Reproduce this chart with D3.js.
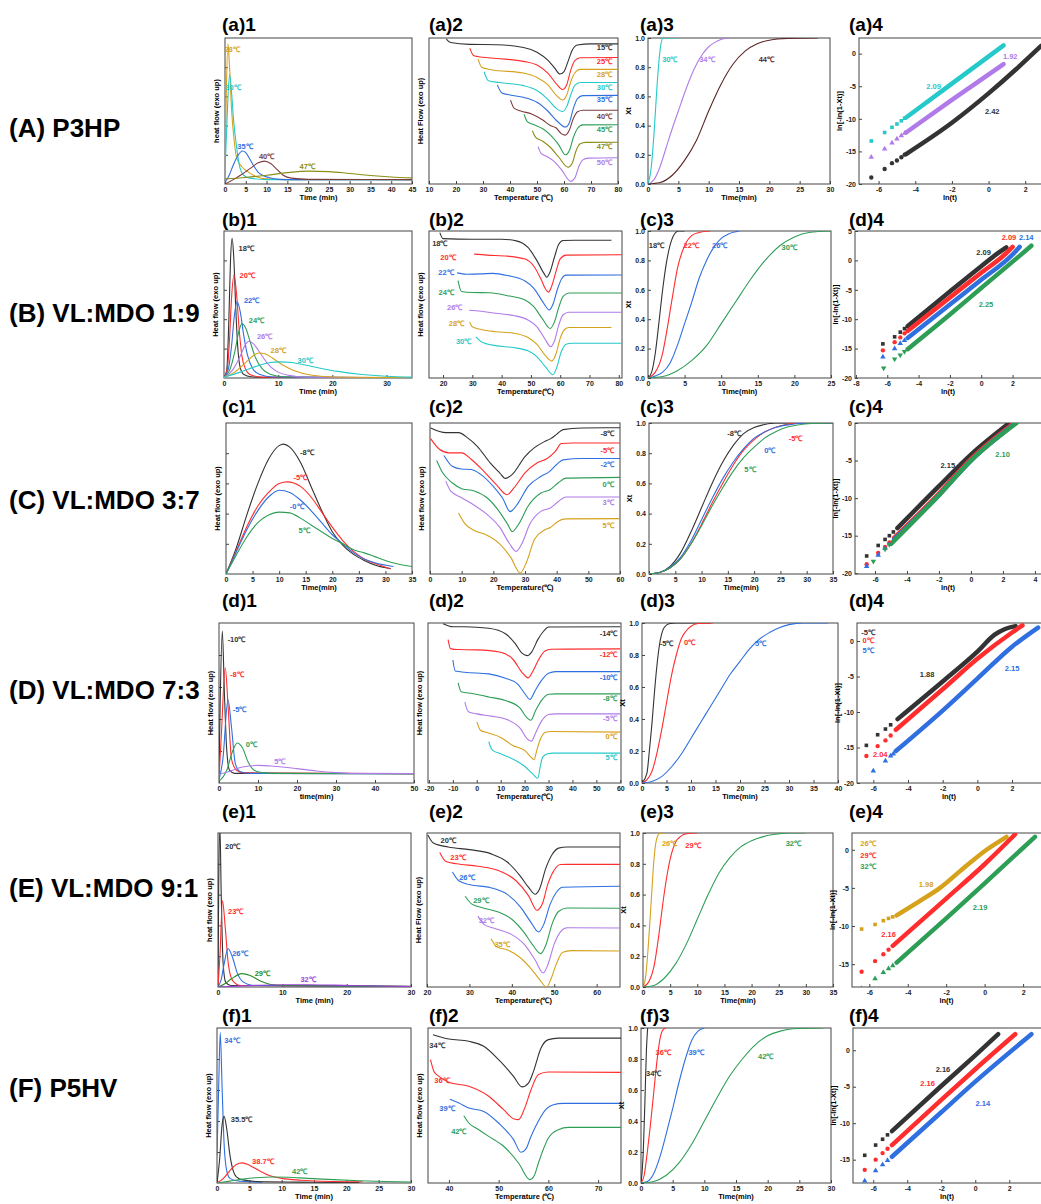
<!DOCTYPE html>
<html>
<head>
<meta charset="utf-8">
<script src="https://cdn.jsdelivr.net/npm/d3@7"></script>
<style>
body{margin:0;background:#fff;}
svg{display:block;font-family:"Liberation Sans",Arial,sans-serif;font-weight:bold;}
.axis text{font-size:7px;fill:#222;}
.axis line{stroke:#444;}
.axis path{display:none;}
</style>
</head>
<body>
<script>
// ---------------- data ----------------
var rowNames = ["(A) P3HP", "(B) VL:MDO 1:9", "(C) VL:MDO 3:7", "(D) VL:MDO 7:3", "(E) VL:MDO 9:1", "(F) P5HV"];
var panelNames = [
  ["(a)1", "(a)2", "(a)3", "(a)4"],
  ["(b)1", "(b)2", "(c)3", "(d)4"],
  ["(c)1", "(c)2", "(c)3", "(c)4"],
  ["(d)1", "(d)2", "(d)3", "(d)4"],
  ["(e)1", "(e)2", "(e)3", "(e)4"],
  ["(f)1", "(f)2", "(f)3", "(f)4"]
];

// row A
var a1Temps = ["28℃", "30℃", "35℃", "40℃", "47℃"];
var a1Flow = [
  [[0,10],[0.3,60],[0.7,96],[1.1,80],[1.6,50],[2.2,30],[2.8,18],[4,12],[5.2,9],[7.6,5],[10,3.5],[15,3],[45,3]],
  [[0,8],[0.5,45],[1.1,75],[1.6,62],[2,46],[2.8,25],[3.6,11],[4.5,6],[6,4],[10,3],[45,3]],
  [[0,1],[1,6],[2,13],[3,19],[4.2,22.6],[5,21.5],[6,17],[7,12],[8,8],[9,6],[10.5,4.5],[13,3.2],[16,3],[45,3]],
  [[0,0],[2,3],[4,6.5],[6,10.5],[8,14.5],[9.5,15.7],[11,14],[12.5,10],[14,6],[16,4],[20,3.2],[45,3]],
  [[0,3.5],[5,4.5],[10,6],[15,7.8],[20,8.8],[25,8.5],[30,7.2],[35,5.8],[40,4.8],[45,4.2]]
];
var a2Temps = ["15℃", "25℃", "28℃", "30℃", "35℃", "40℃", "45℃", "47℃", "50℃"];
var a2Dsc = [
  [[16.4,99.3],[18,96.9],[25,95.6],[35,95.4],[45,93.5],[50,90.3],[54,84.8],[56.5,79.5],[58.5,75.3],[60,77],[61.5,84],[63,91.5],[65,95.2],[70,96],[80,96]],
  [[25.1,93.1],[26.5,88],[28,87.3],[35,86],[45,84],[50,81.5],[54,76],[57,69],[59.5,64.7],[61,68],[62.5,78],[64,84.5],[66,86.5],[80,86.6]],
  [[28.2,85.5],[29.5,80],[33,78.3],[45,76],[50,73],[54,68],[57,61],[59.5,57.5],[61,61],[62.5,70],[64,76],[66,78.5],[80,78.5]],
  [[30.4,76.9],[32,70.7],[36,69.5],[45,67.4],[50,64],[54,58],[57,52],[59.5,49.7],[61,53],[62.5,61],[64,67.5],[66,69.5],[80,69.5]],
  [[35.3,67.9],[37,62.4],[40,61],[45,59.4],[50,56],[54,50],[57.5,43],[60.5,39],[62,42],[63.5,52],[65,58.5],[67,60.5],[80,60.7]],
  [[40.2,57.5],[41.5,52],[44,50],[48,48],[52,44],[55,40],[57,38.5],[59,34.5],[60.5,33.5],[62,37],[63.5,45],[65,49.5],[67,50.5],[80,50.5]],
  [[45.2,47.8],[46.5,42.5],[49,40.5],[52,38],[55,33.5],[58,27],[60.5,20],[62,23],[63.5,32],[65,38],[67,40.5],[80,40.6]],
  [[48.3,36.5],[49.5,32],[52,29.5],[55,25],[58,18.5],[61.5,11.5],[63,14],[64.5,23],[66,27.5],[68,28.5],[80,28.6]],
  [[50.4,25.6],[51.5,21],[53.5,19],[56,16],[59,10],[62.5,1.8],[64,4],[65.5,12],[67,16.5],[69,17.7],[80,18]]
];
var a3Temps = ["30℃", "34℃", "44℃"];
var a3Xt = [
  [[0,0],[0.5,0.1],[1,0.35],[1.5,0.68],[2,0.92],[2.5,1],[5,1]],
  [[0,0],[1,0.03],[2,0.12],[3,0.25],[4,0.38],[5,0.5],[6,0.62],[7,0.73],[8,0.82],[9,0.89],[10,0.94],[11,0.97],[12,0.99],[13.5,1]],
  [[0,0],[2,0.01],[4,0.06],[6,0.16],[8,0.3],[10,0.5],[12,0.68],[14,0.82],[16,0.91],[18,0.96],[20,0.985],[23,0.997],[28,1]]
];
var a4Slopes = ["2.09", "1.92", "2.42"];
var a4Early = [
  [[-6.4,-13.4],[-5.67,-12.1],[-5.27,-11.3],[-5.0,-10.8],[-4.76,-10.3],[-4.58,-9.9]],
  [[-6.4,-15.9],[-5.67,-14.6],[-5.27,-13.7],[-5.0,-13.1],[-4.76,-12.6],[-4.58,-12.2]],
  [[-6.4,-19.0],[-5.67,-17.7],[-5.27,-16.8],[-5.0,-16.4],[-4.76,-15.9],[-4.58,-15.5]]
];
var a4Dense = [
  [[-4.5,-9.8],[-2,-4.6],[0.82,1.26]],
  [[-4.5,-12.1],[-2,-7.1],[0.82,-1.6]],
  [[-4.5,-15.4],[-2,-10.6],[0,-6.1],[1.5,-2.4],[2.87,1.2]]
];

// row B
var b1Temps = ["18℃", "20℃", "22℃", "24℃", "26℃", "28℃", "30℃"];
var b1Flow = [
  [[0,0.5],[0.5,5],[0.9,40],[1.2,80],[1.5,95],[1.8,82],[2.2,45],[2.6,18],[3,7],[3.6,2.5],[5,0.8],[10,0.2],[34.7,0]],
  [[0,0.5],[0.6,6],[1,25],[1.4,55],[1.85,70],[2.3,58],[2.8,33],[3.3,15],[4,6],[5,2],[7,0.6],[34.7,0]],
  [[0,0.5],[0.8,6],[1.4,22],[1.9,42],[2.4,52],[3,45],[3.6,30],[4.3,16],[5.2,7],[6.5,2.5],[9,0.7],[34.7,0]],
  [[0,0.5],[1,5],[2,18],[2.7,31],[3.3,37],[4,34],[4.8,25],[5.8,14],[7,6.5],[8.5,2.5],[11,0.8],[34.7,0]],
  [[0,0.5],[1.5,5],[3,15],[4,23],[4.6,25],[5.5,23],[6.5,18],[8,10],[9.5,5],[12,1.8],[15,0.6],[34.7,0]],
  [[0,0.5],[2,4],[4,10.5],[5.5,15.5],[6.4,17],[7.5,16.5],[9,13.5],[11,8.5],[13,5],[16,2],[20,0.7],[34.7,0.2]],
  [[0,0.5],[3,4],[6,8],[8.5,10.5],[10.3,11],[12.5,10.5],[15,8.8],[18,6.5],[21,4.5],[25,2.6],[30,1.2],[34.7,0.6]]
];
var b2Dsc = [
  [[18.9,98.9],[20,94.8],[30,94.4],[40,94.4],[45,93.3],[49,88.8],[52,80],[54.5,71],[55.4,68.5],[56.5,72],[58,82],[59.5,91],[61,93.5],[65,93.7],[77.5,93.7]],
  [[30.6,84.3],[35,83.6],[42,82.9],[48,80.9],[51,76],[53.5,67],[55,60.5],[56,58.4],[57,62],[58.5,72],[60,81],[62,83.6],[81,83.8]],
  [[24.8,71.5],[28,70.6],[33,70.8],[37,71.2],[42,69.7],[48,66],[51,61],[54,52],[56.3,46.3],[57.5,50],[59,60],[60.5,67.5],[62,70],[81,70.1]],
  [[25.1,66.3],[26.3,58.9],[30,58.2],[36,58],[42,56],[48,53],[51,48.5],[54,40],[56.6,33.7],[58,38],[59.5,48],[61,55.5],[63,57.8],[81,57.8]],
  [[28.9,46.1],[33,45.4],[38,44],[44,42.5],[49,39.5],[52,35],[54.5,27.5],[56.8,21.3],[58,25],[59.5,36],[61,43],[63,44.7],[81,44.7]],
  [[29.1,38.2],[30,34.8],[33,33],[38,31.5],[44,30.5],[49,27.5],[52,23],[55,15],[57.1,11.5],[58.5,16],[60,27],[61.5,33],[63,34.4],[77.5,34.4]],
  [[31.2,27.9],[33,24.7],[38,22],[44,20.7],[49,18.5],[52,14.5],[55,7.5],[57.5,2.2],[58.8,7],[60.3,17.5],[62,23],[64,23.6],[81,23.6]]
];
var b3Temps = ["18℃", "22℃", "26℃", "30℃"];
var b3Xt = [
  [[0,0],[0.5,0.04],[1,0.17],[1.5,0.38],[2,0.6],[2.5,0.78],[3,0.9],[3.5,0.97],[4.2,1],[5,1]],
  [[0,0],[1,0.04],[2,0.17],[2.5,0.3],[3,0.45],[3.5,0.6],[4,0.74],[5,0.9],[6,0.97],[7,0.99],[8.5,1]],
  [[0,0],[2,0.04],[3,0.1],[4,0.22],[5,0.37],[6,0.52],[7,0.68],[8,0.8],[9,0.89],[10,0.95],[11,0.98],[12.5,1]],
  [[0,0],[2,0.01],[4,0.05],[6,0.12],[8,0.22],[10,0.37],[12,0.52],[14,0.67],[16,0.8],[18,0.9],[20,0.96],[22,0.99],[25,1]]
];
var b4Slopes = ["2.09", "2.09", "2.14", "2.25"];
var b4Early = [
  [[-6.28,-14.2],[-5.53,-13.0],[-5.17,-12.2],[-4.9,-11.6]],
  [[-6.28,-15.3],[-5.53,-13.9],[-5.17,-13.1],[-4.9,-12.4]],
  [[-6.28,-16.4],[-5.53,-15.0],[-5.17,-14.1],[-4.9,-13.6]],
  [[-6.23,-18.3],[-5.53,-16.8],[-5.17,-16.1],[-4.9,-15.5]]
];
var b4Dense = [
  [[-4.7,-11.2],[-2,-5.3],[0,-1.0],[1.0,1.1],[1.6,2.2]],
  [[-4.7,-12.0],[-2,-6.3],[0,-2.1],[1.5,1.0],[2.0,2.3]],
  [[-4.7,-13.2],[-2,-7.5],[0,-3.3],[2.0,1.0],[2.45,2.3]],
  [[-4.7,-15.1],[-2,-9.2],[0,-4.7],[2.5,0.9],[3.2,2.5]]
];

// row C
var c1Temps = ["-8℃", "-5℃", "-0℃", "5℃"];
var c1Flow = [
  [[0,0],[2,18],[4,40],[6,60],[8,76],[10,85],[10.8,86],[12,84],[14,74],[16,58],[18,42],[20,28],[22,19],[24,13],[26,9],[28,6],[31,3.5]],
  [[0,0],[2,16],[4,32],[6,45],[8,54],[10,60],[11.5,61],[14,58],[16,51],[18,41],[20,31],[22,22],[24,15],[26,10],[28,7],[31,3.5]],
  [[0,0],[2,15],[4,30],[6,42],[8,51],[10,55.5],[12,54],[14,49],[16,42],[18,34],[20,26],[22,20],[24,14],[26,10],[28,7.5],[31.5,5]],
  [[0,0],[2,13],[4,25],[6,34],[8,39],[10,41],[12,40.5],[14,37],[16,32.5],[18,28],[20,23.5],[22,20],[24,16],[26,14],[28,11.5],[30,9],[32,7],[35,5]]
];
var c2Temps = ["-8℃", "-5℃", "-2℃", "0℃", "3℃", "5℃"];
var c2Dsc = [
  [[0.2,96.7],[5,93.6],[9,93.6],[12,90],[15,84.4],[19,73.6],[22,67],[23.8,63.3],[26,66],[30,77.8],[33,83.7],[36,87.5],[38,89.5],[40,92.5],[42,95.6],[48,96.7],[60,96.9]],
  [[0.2,89.7],[3,82.6],[6,80.2],[10,80.2],[13,76],[17,68],[21,59],[24.3,52.5],[26.5,57],[30,67],[34,73.8],[37,76.5],[39.5,81],[41.5,86.4],[45,86.8],[60,86.8]],
  [[4.4,78.5],[7,71.4],[10,69.5],[13,69.2],[16,66],[20,58],[23,50],[25.3,41.3],[27.5,46],[31,58],[35,64.6],[37.5,67.5],[40,72.5],[42,75.6],[48,76.5],[60,76.5]],
  [[2.1,75.2],[4,67],[7,60.4],[10,56.5],[14,55],[18,50.5],[22,41],[24.5,33],[26,28.1],[28,33],[31,45],[35,53.6],[38,56],[40.5,60.4],[43,63.5],[60,64]],
  [[5,61.5],[6.5,55],[10,50.5],[14,45.5],[18,39.5],[22,31],[25,20.5],[27.2,15],[29,20],[31.5,33],[35,41.5],[38,43.7],[40.5,48],[43,51],[60,51]],
  [[9,40.4],[11,33.4],[14,28.8],[18,25.7],[22,20],[25.5,11],[28.5,0.7],[30.5,8],[33,23],[36,29],[38,30.8],[40.5,35],[43,36.5],[60,36.7]]
];
var c3Temps = ["-8℃", "-5℃", "0℃", "5℃"];
var c3Xt = [
  [[0,0],[2,0.01],[4,0.05],[6,0.14],[8,0.28],[10,0.44],[12,0.6],[14,0.74],[16,0.85],[18,0.93],[20,0.97],[22,0.99],[24,1],[35,1]],
  [[0,0],[2,0.01],[4,0.04],[6,0.1],[8,0.2],[10,0.33],[12,0.47],[14,0.6],[16,0.72],[18,0.82],[20,0.89],[22,0.94],[24,0.97],[26,0.99],[29,1],[35,1]],
  [[0,0],[2,0.01],[4,0.045],[6,0.11],[8,0.22],[10,0.36],[12,0.5],[14,0.63],[16,0.74],[18,0.83],[20,0.9],[22,0.94],[24,0.97],[27,0.99],[30,1],[35,1]],
  [[0,0],[2,0.01],[4,0.04],[6,0.1],[8,0.2],[10,0.32],[12,0.45],[14,0.57],[16,0.68],[18,0.77],[20,0.84],[22,0.9],[24,0.94],[26,0.97],[28,0.985],[31,0.997],[35,1]]
];
var c4Slopes = ["2.15", "2.10"];
var c4Early = [
  [[-6.52,-17.7],[-5.8,-16.3],[-5.37,-15.5],[-5.1,-15],[-4.85,-14.5]],
  [[-6.52,-18.8],[-5.8,-17.3],[-5.37,-16.5],[-5.1,-15.9]],
  [[-6.52,-19.1],[-5.8,-17.6],[-5.37,-16.7],[-5.1,-16.1]],
  [[-6.1,-18.4],[-5.37,-16.8],[-5.1,-16.2]]
];
var c4Dense = [
  [[-4.6,-14],[-2,-8.4],[0,-4.2],[2.4,0]],
  [[-4.8,-15.3],[-2,-9.4],[0,-4.8],[2.7,0]],
  [[-4.8,-15.5],[-2,-9.6],[0,-5.0],[2.8,0]],
  [[-5.0,-16.1],[-2,-9.6],[0,-5.0],[2.85,0]]
];

// row D
var d1Temps = ["-10℃", "-8℃", "-5℃", "0℃", "5℃"];
var d1Flow = [
  [[0,5],[0.3,50],[0.85,95],[1.4,55],[2,20],[2.7,8],[4,6],[50,5.8]],
  [[0,3],[0.6,30],[1.6,72],[2.4,45],[3.2,15],[4.5,8],[6,6.5],[50,5.8]],
  [[0,2],[1,15],[2.3,52],[3.2,35],[4.2,12],[5.5,7],[8,6],[50,5.8]],
  [[0,1],[2,8],[3.5,20],[4.7,25],[6,22],[7.5,13],[9,8],[11,6.5],[15,6],[50,5.8]],
  [[0,5.5],[3,7.5],[6,10],[10,11],[14,10.5],[20,9],[25,7.5],[30,6.5],[35,6],[50,5.9]]
];
var d2Temps = ["-14℃", "-12℃", "-10℃", "-8℃", "-5℃", "0℃", "5℃"];
var d2Dsc = [
  [[-14.1,99.6],[-10,97.7],[-5,97.7],[5,96.7],[12,93.3],[16,87.3],[19,81],[21.1,79.6],[23,82],[25.5,89.6],[28,95],[30,97.5],[60,97.7]],
  [[-12,89.6],[-11,84],[-8,83.4],[0,83.2],[10,81.7],[15,77.5],[19,69],[21.5,65.7],[23.5,70],[26,77.5],[28.5,82.5],[31,83.6],[60,83.8]],
  [[-10,76.9],[-9,70],[-5,69.2],[5,68.2],[12,65.5],[17,62],[20.5,55],[22.2,52.2],[24.5,58],[27,64],[30,68.6],[33,69.6],[60,69.6]],
  [[-7.8,62.6],[-6.5,57],[-2,55.9],[5,53.8],[12,51.5],[18,47],[21,40.7],[22.6,39.2],[24.5,45],[27,51.5],[30,55.5],[33,55.7],[60,55.7]],
  [[-5,50.5],[-3.5,44.5],[0,43.2],[6,41.8],[12,40],[18,34.5],[21.5,27],[22.9,26.2],[24.5,31],[27,38.5],[30,42.8],[33,43.2],[60,43.2]],
  [[0.1,38],[1.5,33],[5,31.2],[10,28.5],[15,23.5],[20,20.4],[22.5,16.5],[24,14.5],[25,20],[26.5,27],[28.5,31.6],[31,32.2],[60,31.8]],
  [[5,25.8],[6.5,20.6],[10,18.3],[15,15],[20,10.5],[23.5,5.5],[25.5,3],[26.5,10],[27.5,16],[29.5,18.3],[32,18.7],[60,18.7]]
];
var d3Temps = ["-5℃", "0℃", "5℃"];
var d3Xt = [
  [[0,0],[1,0.06],[1.5,0.2],[2,0.36],[2.5,0.55],[3,0.72],[3.5,0.85],[4,0.93],[4.5,0.97],[5.5,0.995],[7,1],[14,1]],
  [[0,0],[1,0.02],[2,0.07],[3,0.18],[4,0.33],[5,0.5],[6,0.67],[7,0.8],[8,0.9],[9,0.95],[10,0.98],[11.5,0.997],[14.5,1]],
  [[0,0],[2,0.01],[4,0.04],[6,0.1],[8,0.18],[10,0.28],[12,0.38],[14,0.48],[16,0.58],[18,0.68],[20,0.76],[22,0.84],[24,0.9],[26,0.94],[28,0.97],[30,0.99],[33,1],[38,1]]
];
var d4Slopes = ["1.88", "2.04", "2.15"];
var d4Early = [
  [[-6.4,-14.7],[-5.75,-13.2],[-5.3,-12.4],[-5.0,-11.8]],
  [[-6.4,-16.2],[-5.75,-14.8],[-5.3,-14.0],[-5.0,-13.3]],
  [[-6.0,-18.3],[-5.3,-16.9],[-5.0,-16.2],[-4.85,-15.9]]
];
var d4Dense = [
  [[-4.6,-11],[-2,-5.7],[0,-1.5],[1.0,0.9],[1.6,1.7],[2.2,2.1]],
  [[-4.7,-12.5],[-2,-6.8],[0,-2.5],[2.0,1.2],[2.6,2.2]],
  [[-4.7,-15.5],[-2,-9.8],[0,-5.3],[2,-0.8],[3.5,1.9]]
];

// row E
var e1Temps = ["20℃", "23℃", "26℃", "29℃", "32℃"];
var e1Flow = [
  [[0,0],[0.1,60],[0.3,104],[0.5,60],[0.8,15],[1.2,3],[2,1],[30,0.5]],
  [[0,0],[0.3,20],[0.7,56],[1.1,40],[1.6,15],[2.3,4],[3.5,1],[30,0.3]],
  [[0,0],[0.5,5],[1,16],[1.55,25],[2.2,20],[3,9],[4,3],[5.5,1],[30,0.3]],
  [[0,0],[1,2],[2,5],[3.7,8.7],[5,7.5],[6.5,4],[8,1.8],[10,1],[30,0.3]],
  [[0,0],[3,0.6],[6,1.1],[10,1.5],[14,1.5],[18,1.2],[22,0.8],[26,0.5],[30,0.3]]
];
var e2Temps = ["20℃", "23℃", "26℃", "29℃", "32℃", "35℃"];
var e2Dsc = [
  [[20.2,98.7],[21.5,93.5],[25,90.9],[30,89.2],[35,86.6],[39,81],[42,72],[44,64.5],[45.5,60.2],[46.5,63.5],[48,77],[49.5,86],[51,90.2],[53,90.9],[65.5,90.9]],
  [[23,87.4],[24.5,81.5],[27,80],[32,78.4],[37,75.5],[41,69],[44,59],[45.9,49.8],[47.2,54],[48.5,67],[50,76],[51.5,79.5],[53,79.6],[65.5,79.6]],
  [[26,74.7],[27.5,69],[30,66.5],[35,64.5],[39,60],[42,52],[44.5,42],[46.3,35.7],[47.5,40.5],[49,53.5],[50.5,61.5],[52,64.8],[65.5,65.4]],
  [[29,58.9],[30.5,54],[33,51.5],[37,48.5],[40,44],[43,35],[45,27],[46.8,21.7],[48,27],[49.5,41],[51,49],[53,51.3],[65.5,51.1]],
  [[32,46],[33.5,40.5],[36,38],[40,34],[43,27.5],[45.5,17.5],[47.4,9.1],[48.5,14.5],[50,28],[51.5,36],[53,38.5],[65.5,38.3]],
  [[35.1,31.4],[36.5,26],[39,24],[42,19],[44.5,12],[46.5,5],[48.2,0],[49.2,5],[50.5,15],[52,22.5],[54,23.6],[65.5,23.4]]
];
var e3Temps = ["26℃", "29℃", "32℃"];
var e3Xt = [
  [[0,0],[0.5,0.07],[1,0.28],[1.5,0.55],[2,0.82],[2.5,0.96],[3,0.995],[4,1]],
  [[0,0],[1,0.03],[2,0.13],[3,0.36],[3.5,0.5],[4,0.63],[5,0.83],[6,0.94],[7,0.98],[8,0.995],[10,1]],
  [[0,0],[2,0.01],[4,0.06],[6,0.15],[8,0.28],[10,0.44],[12,0.6],[14,0.74],[16,0.84],[18,0.91],[20,0.95],[22,0.975],[24,0.99],[27,1],[30,1]]
];
var e4Slopes = ["1.98", "2.16", "2.19"];
var e4Early = [
  [[-6.4,-10.4],[-5.7,-9.8],[-5.27,-9.3],[-5.0,-9.0],[-4.78,-8.8]],
  [[-6.4,-16],[-5.7,-14.6],[-5.27,-13.7],[-5.0,-13.1]],
  [[-6.4,-18.2],[-5.7,-16.9],[-5.27,-16.1],[-5.0,-15.6],[-4.78,-15.2]]
];
var e4Dense = [
  [[-4.58,-8.6],[-3.36,-6.7],[-2.32,-5.0],[-1.28,-2.8],[0.1,0],[1.14,1.7]],
  [[-4.78,-12.6],[-2,-6.4],[0,-1.9],[1.58,2.0]],
  [[-4.58,-14.8],[-2,-9.0],[0,-4.4],[2.62,1.7]]
];

// row F
var f1Temps = ["34℃", "35.5℃", "38.7℃", "42℃"];
var f1Flow = [
  [[0,18],[0.25,60],[0.5,97],[0.8,60],[1.1,25],[1.5,8],[2,3],[3,1.5],[7,0.5]],
  [[0,0],[0.4,15],[0.8,38],[1.1,43],[1.5,35],[2,18],[2.5,8],[3,4],[4,2],[6,1],[15,0.5],[22,0.3]],
  [[0,0],[1,3],[2,8],[3,12],[3.9,13],[5,11.5],[6.5,8],[8,5],[10,3],[13,1.8],[18,1],[22.5,0.8]],
  [[0,0],[2,1.2],[4,2.5],[6,3.4],[8.7,3.9],[11,3.7],[14,3],[18,2.2],[22,1.5],[26,1],[30,0.6]]
];
var f2Temps = ["34℃", "36℃", "39℃", "42℃"];
var f2Dsc = [
  [[36.8,95.7],[40,92.9],[44,91.4],[47,88.2],[50,79.6],[53,68.8],[54.7,62],[56,64.5],[57,72],[58.5,87],[60,92.5],[62,93.5],[74.6,93.5]],
  [[36.3,79.6],[37,72],[38,68.8],[40,65],[44,62.4],[48,56],[51,47.3],[53,41.5],[54,40.9],[55.2,48],[56.5,60],[58,70],[60,71.6],[74.6,71.4]],
  [[40.2,54],[42,51.6],[44,48.4],[47,46.2],[50,38.7],[53,28],[54.5,19.8],[55.5,22],[56.5,30],[58,40],[59.5,47.5],[61,50.5],[63,51.4],[74.6,51.4]],
  [[43,43.4],[44,38.7],[46,34.4],[48,30.1],[51,23.7],[54,12.9],[56.3,2.2],[57.2,5],[58,12.9],[60,29],[62,34.4],[64,35.9],[74.6,35.9]]
];
var f3Temps = ["34℃", "36℃", "39℃", "42℃"];
var f3Xt = [
  [[0,0],[0.3,0.15],[0.6,0.5],[0.85,0.85],[1.05,1]],
  [[0,0],[0.5,0.05],[1,0.2],[1.5,0.38],[2,0.58],[2.5,0.78],[3,0.93],[3.5,0.99],[4,1]],
  [[0,0],[1,0.01],[2,0.06],[3,0.17],[4,0.32],[5,0.48],[6,0.65],[7,0.8],[8,0.92],[9,0.98],[10,1]],
  [[0,0],[2,0.01],[4,0.05],[6,0.13],[8,0.25],[10,0.4],[12,0.55],[14,0.69],[16,0.8],[18,0.89],[20,0.95],[22,0.98],[24,0.995],[28.8,1]]
];
var f4Slopes = ["2.16", "2.16", "2.14"];
var f4Early = [
  [[-6.5,-14.4],[-5.86,-13.0],[-5.45,-12.2],[-5.16,-11.6]],
  [[-6.5,-16.4],[-5.86,-15.0],[-5.45,-14.1],[-5.16,-13.5]],
  [[-6.5,-17.9],[-5.86,-16.5],[-5.45,-15.7],[-5.16,-15.1]]
];
var f4Dense = [
  [[-4.9,-11.1],[-2,-4.9],[0,-0.7],[1.35,2.2]],
  [[-4.9,-13],[-2,-6.8],[0,-2.6],[2.35,2.2]],
  [[-4.9,-14.6],[-2,-8.5],[0,-4.3],[3.3,2.2]]
];

// ---------------- styles ----------------
var K = "#333333", R = "#ff2d2d", B = "#2f6fe0", G = "#2e9e57", V = "#b07be8",
    O = "#d6a21c", CY = "#26c9c9", BR = "#7d3b3b", OL = "#8c8c16", BRD = "#5a2424",
    GD = "#2a8a2a", VD = "#9b3fd6";

var rowY = [[38,184],[231,378],[423,574],[623,783],[833,987],[1028,1183]];
var titleY = [31, 226, 413, 607, 818, 1022];
var titleX = [222, 429, 640, 849];
var rowLabelY = [137, 322, 509, 699, 897, 1097];

function range(a, b, s) { return d3.range(a, b + s / 2, s); }
var heat = [0, 100];

var panels = [
  // row A
  {r:0,c:0,L:225,R:412,kind:"line",xd:[0,45],yd:heat,xt:range(0,45,5),xl:"Time (min)",yl:"heat flow (exo up)",
   data:a1Flow,txt:a1Temps,col:[O,CY,B,BR,OL],tx:[[1.7,92],[1.9,66],[4.8,25.5],[10,19],[19.8,12]]},
  {r:0,c:1,L:429,R:618,kind:"line",xd:[10,80],yd:heat,xt:range(10,80,10),xl:"Temperature (℃)",yl:"Heat Flow (exo up)",
   data:a2Dsc,txt:a2Temps,col:[K,R,O,CY,B,BR,G,OL,V],tx:[[75,93.8],[75,83.8],[75,75.3],[75,66.5],[75,57.7],[75,46.4],[75,37.6],[75,25.6],[75,15]]},
  {r:0,c:2,L:648,R:830,kind:"line",xd:[0,30],yd:[0,1],xt:range(0,30,5),yt:range(0,1,0.2),yf:d3.format(".1f"),xl:"Time(min)",yl:"Xt",
   data:a3Xt,txt:a3Temps,col:[CY,V,BRD],tx:[[3.6,0.857],[9.7,0.857],[19.5,0.857]]},
  {r:0,c:3,L:859,R:1045,kind:"avrami",xd:[-7.07,3.08],yd:[-20,2.4],xt:range(-6,2,2),yt:range(-20,0,5),xl:"ln(t)",yl:"ln[-ln(1-Xt)]",
   early:a4Early,dense:a4Dense,sym:["square","tri","circle"],txt:a4Slopes,col:[CY,V,K],tx:[[-3.0,-5.0],[1.18,-0.45],[0.2,-8.9]]},
  // row B
  {r:1,c:0,L:224,R:412,kind:"line",xd:[0,34.7],yd:heat,xt:range(0,30,10),xl:"Time (min)",yl:"Heat flow (exo up)",
   data:b1Flow,txt:b1Temps,col:[K,R,B,G,V,O,CY],tx:[[4.1,88],[4.3,70],[5.1,53],[6,39],[7.5,28],[10,19],[15,11.7]]},
  {r:1,c:1,L:429,R:622,kind:"line",xd:[15.2,81.1],yd:heat,xt:range(20,80,10),xl:"Temperature(℃)",yl:"Heat flow (exo up)",
   data:b2Dsc,txt:b1Temps,col:[K,R,B,G,V,O,CY],tx:[[18.9,91.5],[21.7,82],[21,72],[21.1,58],[24,48],[24.6,37],[27,25]]},
  {r:1,c:2,L:648,R:831,kind:"line",xd:[0,25],yd:[0,1],xt:range(0,25,5),yt:range(0,1,0.2),yf:d3.format(".1f"),xl:"Time(min)",yl:"Xt",
   data:b3Xt,txt:b3Temps,col:[K,R,B,G],tx:[[1.15,0.9],[5.9,0.9],[9.8,0.9],[19.3,0.89]]},
  {r:1,c:3,L:855,R:1045,kind:"avrami",xd:[-8.06,4.07],yd:[-20,5],xt:range(-8,2,2),yt:range(-20,5,5),xl:"ln(t)",yl:"ln[-ln(1-Xt)]",
   early:b4Early,dense:b4Dense,sym:["square","circle","tri","down"],txt:b4Slopes,col:[K,R,B,G],tx:[[0.15,1.4],[1.77,3.9],[2.87,3.9],[0.3,-7.5]]},
  // row C
  {r:2,c:0,L:226,R:412,kind:"line",xd:[0,35],yd:heat,xt:range(0,35,5),xl:"Time(min)",yl:"Heat flow (exo up)",
   data:c1Flow,txt:c1Temps,col:[K,R,B,G],tx:[[15.2,80.7],[14,64],[13.3,44.7],[14.7,29]]},
  {r:2,c:1,L:430,R:620,kind:"line",xd:[0,60],yd:heat,xt:range(0,60,10),xl:"Temperature(℃)",yl:"Heat flow (exo up)",
   data:c2Dsc,txt:c2Temps,col:[K,R,B,G,V,O],tx:[[56,93],[56,82],[56,72.5],[56.2,59.6],[56.2,47.3],[56.2,32]]},
  {r:2,c:2,L:649,R:833,kind:"line",xd:[0,35],yd:[0,1],xt:range(0,35,5),yt:range(0,1,0.2),yf:d3.format(".1f"),xl:"Time(min)",yl:"Xt",
   data:c3Xt,txt:c3Temps,col:[K,R,B,G],tx:[[16.2,0.93],[27.9,0.9],[23,0.82],[19.2,0.69]]},
  {r:2,c:3,L:855,R:1045,kind:"avrami",xd:[-7.25,4.63],yd:[-20.1,0],xt:range(-6,4,2),yt:range(-20,0,5),xl:"ln(t)",yl:"ln[-ln(1-Xt)]",
   early:c4Early,dense:c4Dense,sym:["square","circle","tri","down"],txt:c4Slopes,col:[K,G],tx:[[-1.45,-5.7],[1.98,-4.2]],scol:[K,R,B,G]},
  // row D
  {r:3,c:0,L:219,R:414,kind:"line",xd:[0,50],yd:heat,xt:range(0,50,10),xl:"time(min)",yl:"Heat flow (exo up)",
   data:d1Flow,txt:d1Temps,col:[K,R,B,G,V],tx:[[4.5,89.5],[4.6,68],[5.3,46],[8.3,24],[15.6,13.8]]},
  {r:3,c:1,L:428,R:621,kind:"line",xd:[-20.4,60.3],yd:heat,xt:range(-20,60,10),xl:"Temperature(℃)",yl:"Heat flow (exo up)",
   data:d2Dsc,txt:d2Temps,col:[K,R,B,G,V,O,CY],tx:[[55.1,93.6],[55.1,80.1],[55.1,65.9],[55.6,52.6],[55.6,40.1],[56.2,29.1],[56.2,16.2]]},
  {r:3,c:2,L:642,R:838,kind:"line",xd:[0,40],yd:[0,1],xt:range(0,40,5),yt:range(0,1,0.2),yf:d3.format(".1f"),xl:"Time(min)",yl:"Xt",
   data:d3Xt,txt:d3Temps,col:[K,R,B],tx:[[5,0.87],[9.7,0.88],[24.2,0.87]]},
  {r:3,c:3,L:857,R:1045,kind:"avrami",xd:[-6.94,3.9],yd:[-20,2.54],xt:range(-6,2,2),yt:range(-20,0,5),xl:"ln(t)",yl:"ln[-ln(1-Xt)]",
   early:d4Early,dense:d4Dense,sym:["square","circle","tri"],txt:d3Temps.concat(d4Slopes),col:[K,R,B,K,R,B],
   tx:[[-6.3,1.27],[-6.3,0.15],[-6.3,-1.26],[-2.9,-4.7],[-5.6,-15.9],[2,-3.9]],scol:[K,R,B]},
  // row E
  {r:4,c:0,L:218,R:411,kind:"line",xd:[0,30],yd:heat,xt:range(0,30,10),xl:"Time (min)",yl:"heat flow (exo up)",
   data:e1Flow,txt:e1Temps,col:[K,R,B,GD,VD],tx:[[2.3,91],[2.75,49],[3.4,21.6],[6.9,8.7],[14,4.8]]},
  {r:4,c:1,L:427,R:620,kind:"line",xd:[20,65.5],yd:heat,xt:range(20,60,10),xl:"Temperature(℃)",yl:"Heat Flow (exo up)",
   data:e2Dsc,txt:e2Temps,col:[K,R,B,G,V,O],tx:[[25,95],[27.3,84],[29.4,71],[32.7,56],[34,43],[37.7,27.5]]},
  {r:4,c:2,L:643,R:833,kind:"line",xd:[0,35],yd:[0,1],xt:range(0,35,5),yt:range(0,1,0.2),yf:d3.format(".1f"),xl:"Time(min)",yl:"Xt",
   data:e3Xt,txt:e3Temps,col:[O,R,G],tx:[[4.9,0.93],[9.2,0.92],[27.7,0.93]]},
  {r:4,c:3,L:852,R:1045,kind:"avrami",xd:[-6.9,3.14],yd:[-18,2.2],xt:range(-6,2,2),yt:range(-15,0,5),xl:"ln(t)",yl:"ln[-ln(1-Xt)]",
   early:e4Early,dense:e4Dense,sym:["square","circle","tri"],txt:e3Temps.concat(e4Slopes),col:[O,R,G,O,R,G],
   tx:[[-6.07,0.9],[-6.07,-0.67],[-6.07,-2.23],[-3.05,-4.5],[-5.0,-11.1],[-0.24,-7.5]],scol:[O,R,G]},
  // row F
  {r:5,c:0,L:217,R:411,kind:"line",xd:[0,30],yd:heat,xt:range(0,30,5),xl:"Time (min)",yl:"Heat flow (exo up)",
   data:f1Flow,txt:f1Temps,col:[B,K,R,G],tx:[[2.3,92],[3.8,41],[7.1,14],[12.8,7.5]]},
  {r:5,c:1,L:428,R:621,kind:"line",xd:[35.8,74.6],yd:heat,xt:range(40,70,10),xl:"Temperature (℃)",yl:"Heat flow (exo up)",
   data:f2Dsc,txt:f2Temps,col:[K,R,B,G],tx:[[37.6,89],[38.6,66],[39.6,48],[42,33.5]]},
  {r:5,c:2,L:641,R:831,kind:"line",xd:[0,30],yd:[0,1],xt:range(0,30,5),yt:range(0,1,0.2),yf:d3.format(".1f"),xl:"Time(min)",yl:"Xt",
   data:f3Xt,txt:f3Temps,col:[K,R,B,G],tx:[[2,0.71],[3.5,0.84],[8.7,0.84],[19.7,0.82]]},
  {r:5,c:3,L:853,R:1045,kind:"avrami",xd:[-7.19,4.1],yd:[-18.2,3.05],xt:range(-6,2,2),yt:range(-15,0,5),xl:"ln(t)",yl:"ln[-ln(1-Xt)]",
   early:f4Early,dense:f4Dense,sym:["square","circle","tri"],txt:f4Slopes,col:[K,R,B],tx:[[-1.9,-2.6],[-2.8,-4.5],[0.45,-7.3]]}
];

// ---------------- drawing ----------------
var svg = d3.select("body").append("svg")
    .attr("width", 1041)
    .attr("height", 1204);

rowNames.forEach(function(t, i) {
  svg.append("text")
    .attr("x", 9)
    .attr("y", rowLabelY[i])
    .style("font-size", "26px")
    .text(t);
});

var symTypes = {square: d3.symbolSquare, circle: d3.symbolCircle, tri: d3.symbolTriangle, down: d3.symbolTriangle};
var clipN = 0;

panels.forEach(function(p) {
  var T = rowY[p.r][0], Bm = rowY[p.r][1];
  var x = d3.scaleLinear().domain(p.xd).range([p.L, p.R]);
  var y = d3.scaleLinear().domain(p.yd).range([Bm, T]);
  var id = "clip" + (clipN++);

  svg.append("clipPath").attr("id", id)
    .append("rect")
    .attr("x", p.L).attr("y", T)
    .attr("width", p.R - p.L).attr("height", Bm - T);

  // panel title
  svg.append("text")
    .attr("x", titleX[p.c])
    .attr("y", titleY[p.r])
    .style("font-size", "19px")
    .text(panelNames[p.r][p.c]);

  // axes
  svg.append("g")
    .attr("class", "axis")
    .attr("transform", "translate(0," + Bm + ")")
    .call(d3.axisBottom(x).tickValues(p.xt).tickSizeInner(-3).tickSizeOuter(0).tickPadding(3)
      .tickFormat(function(d) { return String(d); }));

  if (p.yt) {
    svg.append("g")
      .attr("class", "axis")
      .attr("transform", "translate(" + p.L + ",0)")
      .call(d3.axisLeft(y).tickValues(p.yt).tickSizeInner(-3).tickSizeOuter(0).tickPadding(3)
        .tickFormat(p.yf || function(d) { return String(d); }));
  } else if (p.c === 0) {
    svg.append("g")
      .attr("class", "axis")
      .attr("transform", "translate(" + p.L + ",0)")
      .call(d3.axisLeft(y).tickValues([20, 40, 60, 80]).tickSizeInner(-3).tickSizeOuter(0).tickFormat(""));
  }

  svg.append("rect")
    .attr("x", p.L).attr("y", T)
    .attr("width", p.R - p.L).attr("height", Bm - T)
    .style("fill", "none")
    .style("stroke", "#444")
    .style("stroke-width", 1);

  // axis titles
  svg.append("text")
    .attr("x", (p.L + Math.min(p.R, 1041)) / 2)
    .attr("y", Bm + 16)
    .attr("text-anchor", "middle")
    .style("font-size", "7.5px")
    .text(p.xl);

  var ylx = p.yt ? p.L - 17 : p.L - 6;
  svg.append("text")
    .attr("transform", "translate(" + ylx + "," + (T + Bm) / 2 + ") rotate(-90)")
    .attr("text-anchor", "middle")
    .style("font-size", "7.5px")
    .text(p.yl);

  var plot = svg.append("g").attr("clip-path", "url(#" + id + ")");
  var line = d3.line()
    .x(function(d) { return x(d[0]); })
    .y(function(d) { return y(d[1]); })
    .curve(d3.curveMonotoneX);

  if (p.kind === "line") {
    p.data.forEach(function(s, i) {
      plot.append("path")
        .attr("d", line(s))
        .style("fill", "none")
        .style("stroke", p.col[i])
        .style("stroke-width", 1.1);
    });
  } else {
    var sc = p.scol || p.col;
    p.dense.forEach(function(s, i) {
      plot.append("path")
        .attr("d", line(s))
        .style("fill", "none")
        .style("stroke", sc[i])
        .style("stroke-width", 4.5)
        .style("stroke-linecap", "round");
    });
    p.early.forEach(function(s, i) {
      var sym = d3.symbol().type(symTypes[p.sym[i]]).size(p.sym[i] === "circle" ? 15 : 13);
      plot.selectAll(null)
        .data(s)
        .join("path")
        .attr("transform", function(d) {
          return "translate(" + x(d[0]) + "," + y(d[1]) + ")" + (p.sym[i] === "down" ? " rotate(180)" : "");
        })
        .attr("d", sym)
        .style("fill", sc[i]);
    });
  }

  // curve labels
  p.tx.forEach(function(pt, i) {
    svg.append("text")
      .attr("x", x(pt[0]))
      .attr("y", y(pt[1]))
      .attr("dy", "0.35em")
      .attr("text-anchor", "middle")
      .style("font-size", "7.5px")
      .style("fill", p.col[i])
      .text(p.txt[i]);
  });
});
</script>
</body>
</html>
